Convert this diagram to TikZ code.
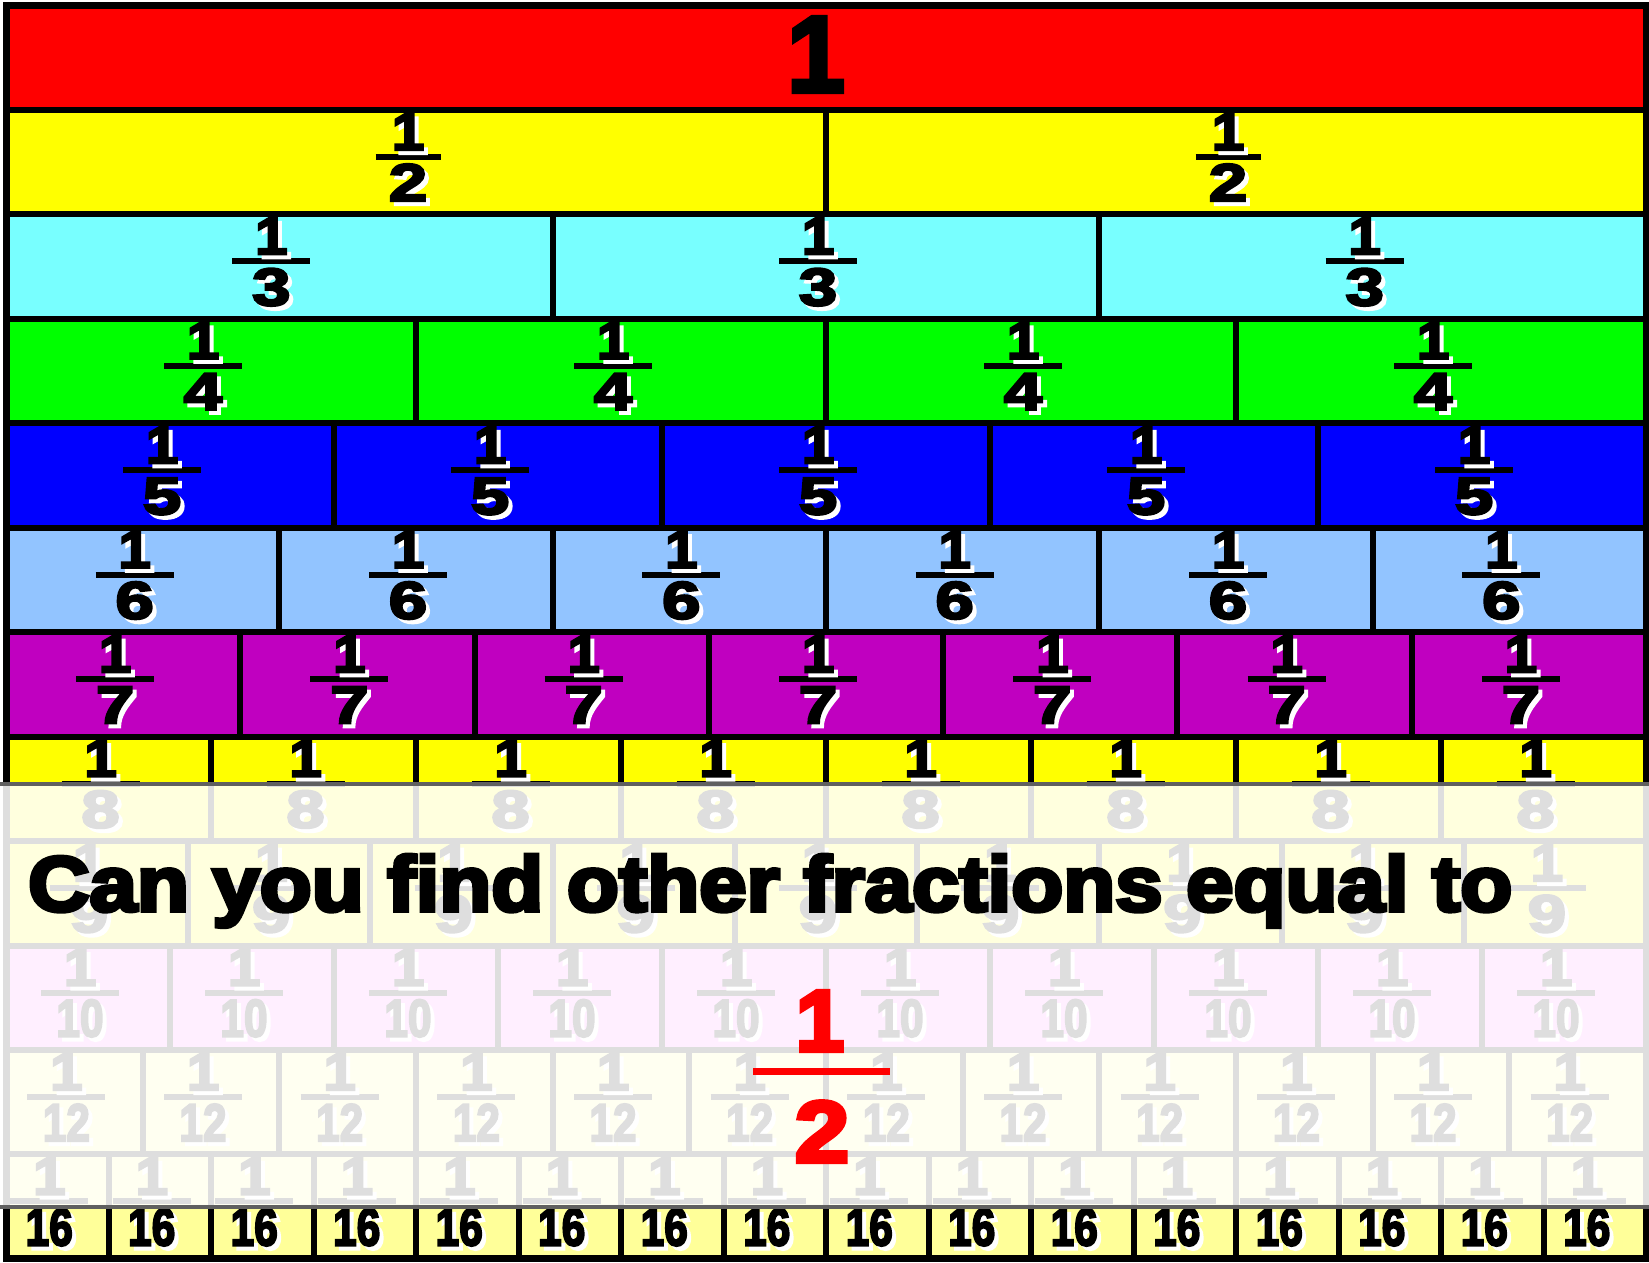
\documentclass[tikz,border=0pt]{standalone}
\usepackage{fontspec}
\usepackage{graphicx}
\newfontfamily\digitfont[FakeBold=4]{Liberation Sans Bold}
\newfontfamily\heavyfont[FakeBold=5]{Liberation Sans Bold}
\definecolor{cRed}{RGB}{255,0,0}
\definecolor{cYel}{RGB}{255,255,0}
\definecolor{cCyan}{RGB}{120,255,255}
\definecolor{cGreen}{RGB}{0,255,0}
\definecolor{cBlue}{RGB}{0,0,255}
\definecolor{cLBlue}{RGB}{146,196,255}
\definecolor{cPurp}{RGB}{192,0,192}
\definecolor{cPink}{RGB}{255,136,255}
\definecolor{cLYel}{RGB}{255,255,153}
\definecolor{cGray}{RGB}{96,96,96}
\tikzset{
  divider/.style={line width=6pt, black},
  fracbar/.style={line width=6pt, black},
  lab/.style={anchor=base, inner sep=0pt, outer sep=0pt, font={\digitfont\fontsize{53}{60}\selectfont}},
}
\begin{document}
\begin{tikzpicture}[x=1pt,y=-1pt]
\useasboundingbox (0,0) rectangle (1649,1263);
\fill[white] (0,0) rectangle (1649,1263);
\def\Lx{6}\def\Rx{1646}\def\Ty{5.5}\def\Hh{104.45}
% rows
\foreach \rk/\rd/\rc in {0/1/cRed,1/2/cYel,2/3/cCyan,3/4/cGreen,4/5/cBlue,5/6/cLBlue,6/7/cPurp,7/8/cYel,8/9/cYel,9/10/cPink,10/12/cLYel,11/16/cLYel}{
  \pgfmathsetmacro\ytop{\Ty+\rk*\Hh}
  \pgfmathsetmacro\ybot{\Ty+(\rk+1)*\Hh}
  \fill[\rc] (\Lx,\ytop) rectangle (\Rx,\ybot);
}
% lines
\foreach \rk/\rd in {1/2,2/3,3/4,4/5,5/6,6/7,7/8,8/9,9/10,10/12,11/16}{
  \pgfmathsetmacro\ytop{\Ty+\rk*\Hh}
  \pgfmathsetmacro\ybot{\Ty+(\rk+1)*\Hh}
  \pgfmathsetmacro\w{(\Rx-\Lx)/\rd}
  \pgfmathtruncatemacro\dm{\rd-1}
  \foreach \i in {1,...,\dm}{
    \draw[divider] (\Lx+\i*\w,\ytop) -- (\Lx+\i*\w,\ybot);
  }
  \draw[divider] (\Lx,\ytop) -- (\Rx,\ytop);
}
\draw[line width=7pt] (\Lx,\Ty) rectangle (\Rx,\Ty+12*\Hh);
% top label
\node[lab, font={\digitfont\fontsize{109}{120}\selectfont}] (one) at (816,92) {\scalebox{0.95}[1]{1}};
% fraction labels
\foreach \rk/\rd in {1/2,2/3,3/4,4/5,5/6,6/7,7/8,8/9,9/10,10/12,11/16}{
  \pgfmathsetmacro\ytop{\Ty+\rk*\Hh}
  \pgfmathsetmacro\w{(\Rx-\Lx)/\rd}
  \pgfmathtruncatemacro\dm{\rd-1}
  \pgfmathsetmacro\by{\ytop+47}
  \ifnum\rd=2 \def\bw{65}\else\def\bw{78}\fi
  \ifnum\rd<10 \def\ds{1.3}\else\def\ds{0.8}\fi
  \foreach \i in {0,...,\dm}{
    \pgfmathsetmacro\cx{\Lx+(\i+0.5)*\w-8}
    \draw[fracbar] (\cx-\bw/2,\by) -- (\cx+\bw/2,\by);
    \node[lab, text=white] (ns-\rk-\i) at (\cx+4,\by-3) {\scalebox{1.1}[1]{1}};
    \node[lab] (n-\rk-\i) at (\cx,\by-7) {\scalebox{1.1}[1]{1}};
    \node[lab, text=white] (ds-\rk-\i) at (\cx+4,\by+48) {\scalebox{\ds}[1]{\rd}};
    \node[lab] (d-\rk-\i) at (\cx,\by+44) {\scalebox{\ds}[1]{\rd}};
  }
}
% overlay
\fill[white, fill opacity=0.87] (-10,784) rectangle (1659,1207);
\draw[cGray, line width=4.5pt] (-10,784) -- (1659,784);
\draw[cGray, line width=4.5pt] (-10,1207) -- (1659,1207);
% question
\node[anchor=base west, inner sep=0pt, font={\heavyfont\fontsize{78}{90}\selectfont}] (q) at (28,911)
  {\resizebox{1484pt}{\height}{Can you find other fractions equal to}};
\node[anchor=base, inner sep=0pt, text=cRed, font={\heavyfont\fontsize{87}{100}\selectfont}] (qn) at (820,1051) {\scalebox{1.0}[1]{1}};
\draw[cRed, line width=7pt] (753,1071) -- (890,1071);
\node[anchor=base, inner sep=0pt, text=cRed, font={\heavyfont\fontsize{87}{100}\selectfont}] (qd) at (822,1162) {\scalebox{1.12}[1]{2}};
\end{tikzpicture}
\end{document}
